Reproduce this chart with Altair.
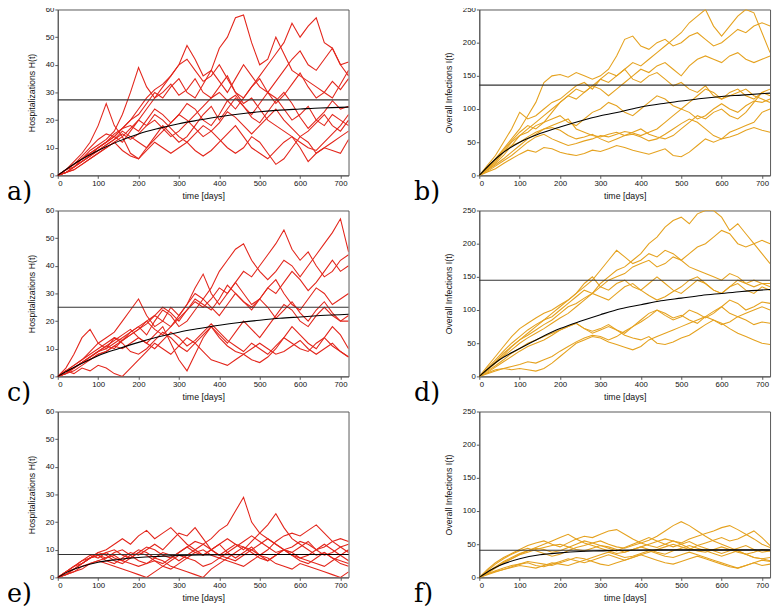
import altair as alt
import pandas as pd

T = list(range(0, 721, 20))

# ---------------- panel a) Hospitalizations ----------------
A_TRAJ = [
    [0,2,4,6,8,10,12,14,17,20,24,28,31,33,36,40,47,42,36,38,46,50,57,58,48,40,42,50,44,38,36,34,32,30,28,33,38],
    [0,1,3,6,9,11,13,16,22,30,39,32,28,30,33,29,31,35,30,28,32,36,30,28,32,36,40,44,48,55,50,54,57,48,46,40,36],
    [0,2,5,8,12,18,26,18,14,8,6,10,14,18,15,12,14,18,22,25,20,24,28,25,22,26,30,28,24,20,22,25,20,18,22,20,18],
    [0,1,3,5,7,10,12,14,12,16,20,18,22,20,17,14,12,15,18,16,13,10,8,10,14,12,8,4,6,10,14,12,8,10,12,14,16],
    [0,1,2,4,6,8,10,12,9,7,6,9,12,10,8,10,12,9,7,9,12,15,18,14,10,8,6,9,12,14,10,5,8,10,9,8,13],
    [0,2,4,7,10,13,15,14,17,20,22,26,30,28,32,35,30,28,33,38,34,30,35,40,36,32,30,34,38,42,45,40,38,42,46,40,41],
    [0,2,4,6,8,10,12,15,17,18,16,20,24,22,19,22,26,24,20,18,22,27,29,25,21,19,23,27,30,26,21,17,20,23,27,24,25],
    [0,1,3,5,7,9,11,13,15,13,15,18,20,17,14,16,19,22,25,28,30,27,24,28,32,35,30,26,29,33,37,32,28,30,34,31,35],
    [0,2,3,5,7,9,11,13,16,14,12,10,13,16,19,22,20,17,14,16,19,23,21,18,15,18,21,24,20,17,14,16,19,22,18,16,20],
    [0,1,2,4,6,8,10,12,14,17,20,24,28,32,36,40,42,38,34,36,40,35,30,26,28,24,20,18,16,14,12,10,9,12,15,18,22],
]
A_MEAN_T = [0, 50, 100, 150, 200, 250, 300, 350, 400, 450, 500, 550, 600, 650, 720]
A_MEAN = [0, 5, 9, 12.3, 15, 17, 18.7, 20, 21.2, 22.2, 23, 23.6, 24, 24.4, 24.7]
A_LEVEL = 27.3

# ---------------- panel b) Overall infections ----------------
B_TRAJ = [
    [0,12,25,40,55,70,90,110,140,150,152,148,155,150,145,150,160,180,205,210,195,190,200,205,195,200,210,215,205,195,200,210,220,215,225,230,225],
    [0,8,18,30,45,60,70,80,90,100,110,120,130,125,135,145,140,150,160,170,165,175,185,195,205,215,230,240,250,225,210,225,240,250,245,215,185],
    [0,10,22,35,45,50,58,65,70,72,68,60,55,58,62,55,50,55,60,62,58,52,55,62,70,78,85,80,70,60,55,58,62,68,72,68,65],
    [0,5,10,18,25,32,38,35,42,40,35,32,30,33,38,36,40,45,42,38,35,32,36,40,30,28,35,45,55,50,55,65,70,75,80,95,100],
    [0,15,30,50,70,95,85,90,100,110,115,125,135,140,130,145,155,150,160,145,140,150,155,145,135,140,130,125,135,120,115,125,130,120,115,125,120],
    [0,10,20,35,50,60,65,75,80,85,90,80,75,85,95,100,110,105,95,90,100,110,120,115,105,100,110,120,130,125,115,120,125,130,120,115,110],
    [0,8,16,25,35,45,55,62,70,75,80,85,70,65,60,58,62,65,60,65,70,62,58,55,60,70,80,90,85,95,100,90,85,95,110,125,130],
    [0,12,25,38,52,65,75,70,80,95,110,120,115,125,135,130,120,130,140,150,160,155,165,170,160,150,165,175,180,175,170,180,185,175,170,175,180],
    [0,6,14,22,30,40,50,58,62,55,50,45,48,52,55,60,58,62,66,64,60,65,70,80,90,100,95,85,90,100,108,100,95,105,112,110,115],
]
B_MEAN_T = [0, 50, 100, 150, 200, 250, 300, 350, 400, 450, 500, 550, 600, 650, 720]
B_MEAN = [0, 30, 50, 63, 73, 82, 90, 96, 103, 108, 112, 116, 119, 121, 124]
B_LEVEL = 136

# ---------------- panel c) Hospitalizations ----------------
C_TRAJ = [
    [0,3,8,14,17,12,10,14,12,9,8,10,13,16,14,11,9,12,15,18,14,11,9,8,10,12,10,8,9,11,13,10,8,10,12,9,7],
    [0,2,4,6,9,12,14,16,20,24,28,22,18,20,25,22,26,32,37,30,26,30,34,30,26,28,32,35,30,26,24,28,32,30,26,28,30],
    [0,1,3,5,7,9,11,10,13,16,18,20,17,15,18,22,26,30,28,32,38,42,46,48,42,38,35,38,42,40,36,40,44,48,52,57,45],
    [0,2,4,6,8,10,12,14,13,15,17,19,22,20,18,21,24,27,25,28,32,30,34,38,36,40,44,48,53,46,42,45,40,36,38,42,44],
    [0,1,3,5,7,9,11,13,15,17,14,12,15,18,12,6,2,8,14,18,15,12,16,20,17,14,18,22,26,24,20,18,22,25,22,20,22],
    [0,2,1,3,2,4,3,1,0,3,6,9,12,10,8,11,14,12,9,6,5,4,6,8,6,5,7,10,14,18,15,12,10,14,18,15,10],
    [0,1,3,5,7,9,10,12,14,16,18,15,20,24,22,18,20,24,28,25,22,26,30,27,24,28,25,21,24,27,23,20,24,27,23,20,20],
    [0,2,3,5,6,8,9,11,10,12,14,12,10,13,16,14,11,13,16,19,16,13,11,9,12,10,8,11,14,12,10,9,12,14,11,9,7],
    [0,1,2,4,6,8,9,11,13,15,17,20,22,25,23,20,24,28,26,24,28,33,30,27,25,28,32,30,34,38,35,31,34,38,42,38,40],
]
C_MEAN_T = [0, 50, 100, 150, 200, 250, 300, 350, 400, 450, 500, 550, 600, 650, 720]
C_MEAN = [0, 4, 7.5, 10, 12.3, 14.3, 16, 17.3, 18.5, 19.5, 20.3, 21, 21.5, 22, 22.5]
C_LEVEL = 25

# ---------------- panel d) Overall infections ----------------
D_TRAJ = [
    [0,10,22,35,45,55,65,75,85,90,100,110,120,130,125,140,150,160,165,175,185,200,210,225,235,240,230,245,250,250,240,220,230,215,200,185,170],
    [0,12,25,38,50,60,70,78,85,95,105,115,125,135,145,160,175,190,180,170,175,185,180,190,185,175,185,195,200,210,220,215,200,195,200,205,200],
    [0,15,30,45,60,72,80,88,95,100,108,115,125,140,150,135,130,140,145,135,130,140,150,140,130,125,135,145,140,130,125,135,140,130,125,135,130],
    [0,5,10,12,10,12,10,8,12,20,30,40,50,55,60,58,52,48,44,40,45,55,60,65,70,75,80,85,90,85,78,82,90,85,78,82,80],
    [0,8,16,25,35,42,50,55,60,65,70,75,80,72,65,70,75,70,62,58,55,60,50,48,52,58,62,70,78,85,80,72,65,60,55,50,48],
    [0,10,20,32,45,55,62,70,78,85,95,105,110,118,125,120,115,125,135,140,130,122,115,120,128,135,145,150,140,130,125,135,145,140,135,140,140],
    [0,6,14,22,30,38,45,50,55,62,70,75,80,72,68,72,78,70,65,75,85,95,100,92,85,90,100,95,88,95,105,115,110,100,105,112,110],
    [0,10,20,30,40,50,58,65,72,80,88,95,105,115,125,135,145,150,155,165,170,175,165,170,180,175,165,160,155,150,145,155,150,140,145,140,135],
    [0,4,8,12,15,18,22,20,25,30,38,45,52,58,62,60,55,60,68,75,82,90,100,95,88,92,85,80,90,98,105,95,90,95,100,105,100],
]
D_MEAN_T = [0, 50, 100, 150, 200, 250, 300, 350, 400, 450, 500, 550, 600, 650, 720]
D_MEAN = [0, 25, 42, 58, 72, 83, 93, 102, 108, 114, 118, 122, 125, 128, 131]
D_LEVEL = 145

# ---------------- panel e) Hospitalizations ----------------
E_TRAJ = [
    [0,2,4,6,8,7,9,10,8,7,9,11,10,8,7,9,11,13,12,14,17,19,24,29,20,16,14,12,10,9,11,13,10,8,9,11,12],
    [0,1,3,5,7,9,8,6,5,7,9,8,6,5,7,9,11,9,8,10,12,14,12,10,13,16,19,23,18,14,12,10,8,9,7,6,5],
    [0,2,3,5,7,8,7,9,10,8,6,5,7,9,8,6,8,10,12,10,8,7,9,11,10,8,10,13,15,16,15,17,19,16,13,11,9],
    [0,1,3,5,7,9,10,12,14,12,15,17,14,16,18,15,12,10,8,10,12,9,7,9,11,8,6,8,10,8,6,5,7,9,7,5,4],
    [0,2,4,6,7,8,6,5,7,9,8,10,12,10,13,16,15,18,14,10,8,10,12,11,9,7,6,8,10,9,7,8,10,12,10,8,6],
    [0,1,2,4,5,6,5,4,3,2,1,0,2,4,6,8,7,9,10,8,7,9,11,13,15,13,11,9,10,8,7,6,5,4,6,8,10],
    [0,2,4,5,7,8,9,7,6,8,10,9,7,6,4,3,2,1,0,3,5,7,6,8,10,12,14,12,10,11,13,12,10,11,13,14,13],
    [0,1,2,3,5,6,7,8,6,5,4,5,6,4,3,5,7,6,4,5,7,6,5,4,6,8,7,5,4,3,5,4,3,2,1,0,2],
]
E_MEAN_T = [0, 25, 50, 100, 150, 200, 250, 300, 350, 400, 500, 720]
E_MEAN = [0, 2, 3.5, 5.5, 6.5, 7.2, 7.6, 7.9, 8.1, 8.2, 8.3, 8.3]
E_LEVEL = 8.3

# ---------------- panel f) Overall infections ----------------
F_TRAJ = [
    [0,10,20,28,35,40,44,40,36,32,35,40,45,48,52,55,50,46,44,48,52,56,62,70,78,84,78,70,62,55,50,45,40,35,30,28,25],
    [0,8,15,22,28,34,38,42,45,48,50,46,42,40,44,48,46,42,38,42,46,50,54,58,55,52,58,62,66,70,75,78,72,65,58,50,45],
    [0,12,22,30,36,42,48,52,55,50,46,52,58,62,60,65,70,72,65,58,52,48,45,50,55,50,44,40,38,42,46,42,38,35,38,42,40],
    [0,6,14,22,28,35,40,45,50,55,60,65,58,52,48,44,40,36,38,42,46,42,38,35,40,44,48,44,40,36,32,36,40,35,30,28,30],
    [0,5,10,14,18,20,22,18,16,20,24,28,25,22,26,30,34,30,26,30,34,38,42,46,50,46,42,48,52,56,60,55,58,64,70,60,48],
    [0,4,8,12,16,20,24,22,20,18,22,26,30,28,24,20,18,22,26,30,34,30,26,22,20,24,28,32,28,24,20,16,14,18,22,18,20],
    [0,8,16,24,30,36,40,44,42,38,40,45,50,55,52,48,44,40,45,50,55,60,55,50,46,50,54,48,44,40,36,40,44,48,42,38,40],
    [0,5,9,12,15,18,16,14,18,22,20,18,22,26,30,34,38,34,30,32,36,40,36,32,30,34,38,34,30,26,22,18,14,18,22,26,24],
]
F_MEAN_T = [0, 25, 50, 100, 150, 200, 250, 300, 350, 450, 720]
F_MEAN = [0, 10, 18, 28, 34, 37, 39, 40, 41, 41.5, 41.5]
F_LEVEL = 41

X_TICKS = [0, 100, 200, 300, 400, 500, 600, 700]
H_TICKS = [0, 10, 20, 30, 40, 50, 60]
I_TICKS = [0, 50, 100, 150, 200, 250]
H_TITLE = "Hospitalizations H(t)"
I_TITLE = "Overall Infections I(t)"
X_TITLE = "time [days]"
RED = "#e3261c"
GOLD = "#e5a21f"

W, H = 298, 170


def panel(label, trajs, mean_t, mean_v, level, ymax, yticks, ytitle, color, label_x):
    rows = []
    for k, tr in enumerate(trajs):
        for t, v in zip(T, tr):
            rows.append({"t": t, "v": v, "run": k})
    df = pd.DataFrame(rows)
    mdf = pd.DataFrame({"t": mean_t, "v": mean_v})
    ldf = pd.DataFrame({"v": [level]})
    tdf = pd.DataFrame({"s": [label]})

    x = alt.X("t:Q", scale=alt.Scale(domain=[0, 720], nice=False, zero=False),
              axis=alt.Axis(values=X_TICKS, title=X_TITLE))
    y = alt.Y("v:Q", scale=alt.Scale(domain=[0, ymax], nice=False),
              axis=alt.Axis(values=yticks, title=ytitle))

    lines = alt.Chart(df).mark_line(color=color, strokeWidth=1.1, clip=True).encode(
        x=x, y=y, detail="run:N")
    rule = alt.Chart(ldf).mark_rule(color="#333333", strokeWidth=1.1).encode(y=y)
    mean = alt.Chart(mdf).mark_line(color="black", strokeWidth=1.1,
                                    interpolate="monotone").encode(x=x, y=y)
    txt = alt.Chart(tdf).mark_text(align="left", baseline="middle", font="DejaVu Serif",
                                   fontSize=26, color="black").encode(
        x=alt.value(label_x), y=alt.value(H + 17), text="s:N")
    return alt.layer(lines, rule, mean, txt).properties(width=W, height=H)


pa = panel("a)", A_TRAJ, A_MEAN_T, A_MEAN, A_LEVEL, 60, H_TICKS, H_TITLE, RED, -52)
pb = panel("b)", B_TRAJ, B_MEAN_T, B_MEAN, B_LEVEL, 250, I_TICKS, I_TITLE, GOLD, -67)
pc = panel("c)", C_TRAJ, C_MEAN_T, C_MEAN, C_LEVEL, 60, H_TICKS, H_TITLE, RED, -52)
pd_ = panel("d)", D_TRAJ, D_MEAN_T, D_MEAN, D_LEVEL, 250, I_TICKS, I_TITLE, GOLD, -67)
pe = panel("e)", E_TRAJ, E_MEAN_T, E_MEAN, E_LEVEL, 60, H_TICKS, H_TITLE, RED, -52)
pf = panel("f)", F_TRAJ, F_MEAN_T, F_MEAN, F_LEVEL, 250, I_TICKS, I_TITLE, GOLD, -67)

chart = alt.concat(pa, pb, pc, pd_, pe, pf, columns=2,
                   spacing={"row": 0, "column": 63}).properties(
    padding={"left": -2, "top": -11, "right": 0, "bottom": 0},
    background="white",
).configure_view(
    stroke="#555555", strokeWidth=1
).configure_axis(
    labelFont="Liberation Sans", labelFontSize=8, labelColor="#111111",
    titleFont="Liberation Sans", titleFontSize=9, titleFontWeight="normal",
    titleColor="#111111", grid=False, tickSize=3, tickColor="#555555",
    domainColor="#555555", labelPadding=1,
).configure_axisY(titlePadding=9).configure_axisX(titlePadding=5)

chart.save("out.html", embed_options={"renderer": "svg", "actions": False})
